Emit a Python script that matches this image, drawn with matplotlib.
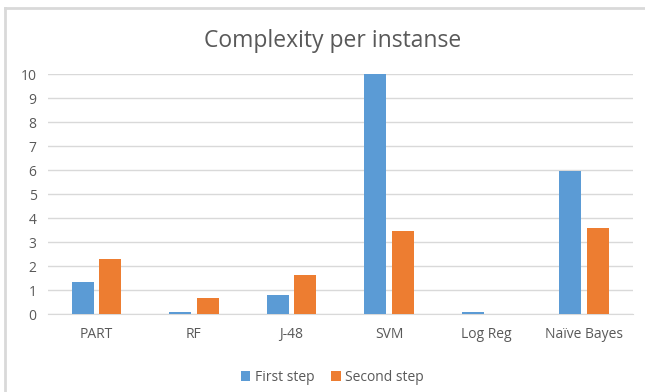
import matplotlib
matplotlib.use("Agg")
import matplotlib.pyplot as plt
import numpy as np
from matplotlib.lines import Line2D

categories = ["PART", "RF", "J-48", "SVM", "Log Reg", "Naïve Bayes"]
first_step = [1.36, 0.12, 0.79, 10.0, 0.11, 5.97]
second_step = [2.29, 0.67, 1.65, 3.46, 0.0, 3.58]
y_ticks = list(range(0, 11))

plt.rcParams["font.family"] = ["Open Sans", "DejaVu Sans"]

fig = plt.figure(figsize=(6.45, 3.92), dpi=100)
ax = fig.add_axes([0.074, 0.198, 0.907, 0.612])

x = np.arange(len(categories))
w = 0.225
ax.bar(x - w / 2 - 0.027, first_step, w, color="#5B9BD5", label="First step", zorder=3)
ax.bar(x + w / 2 + 0.027, second_step, w, color="#ED7D31", label="Second step", zorder=3)

ax.set_xlim(-0.5, len(categories) - 0.5)
ax.set_ylim(0, 10)
ax.set_yticks(y_ticks)
ax.set_xticks(x)
ax.set_xticklabels(categories)
ax.tick_params(axis="both", length=0, colors="#595959", labelsize=10)
ax.tick_params(axis="x", pad=9)
ax.tick_params(axis="y", pad=8)
ax.grid(axis="y", color="#D9D9D9", linewidth=1, zorder=0)
for s in ["top", "right", "left"]:
    ax.spines[s].set_visible(False)
ax.spines["bottom"].set_color("#D9D9D9")

fig.text(0.515, 0.895, "Complexity per instanse", ha="center", va="center",
         fontsize=16.5, color="#595959")

fig.legend(loc="center", bbox_to_anchor=(0.515, 0.037), ncol=2, frameon=False,
           fontsize=10, labelcolor="#595959", handlelength=0.7, handleheight=0.7,
           handletextpad=0.3, columnspacing=1.2)

# chart border (top and left edges visible)
fig.add_artist(Line2D([5 / 645, 5 / 645], [0, 1 - 8 / 392], color="#D9D9D9", linewidth=2,
                      transform=fig.transFigure))
fig.add_artist(Line2D([5 / 645, 1], [1 - 8 / 392, 1 - 8 / 392], color="#D9D9D9", linewidth=2,
                      transform=fig.transFigure))

fig.savefig("out.png", dpi=100)
